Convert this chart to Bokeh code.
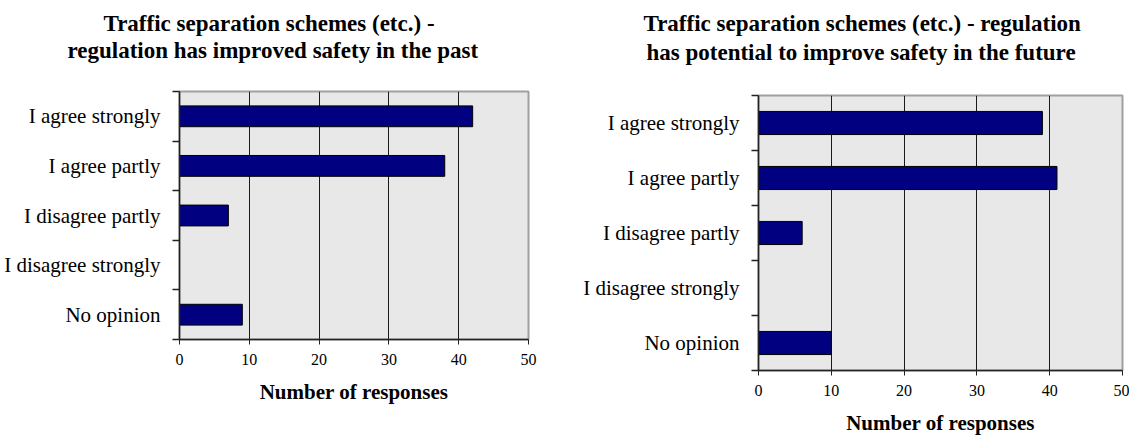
from bokeh.plotting import figure
from bokeh.layouts import row
from bokeh.models import Range1d, FixedTicker, Title, ColumnDataSource
from bokeh.embed import file_html
from bokeh.resources import INLINE

# ---------------- data ----------------
categories = ["I agree strongly", "I agree partly", "I disagree partly",
              "I disagree strongly", "No opinion"]
past_values = [42, 38, 7, 0, 9]
future_values = [39, 41, 6, 0, 10]
x_ticks = [0, 10, 20, 30, 40, 50]
grid_ticks = [10, 20, 30, 40]
title_past = ["Traffic separation schemes (etc.)  -",
              "regulation has improved safety in the past"]
title_future = ["Traffic separation schemes (etc.) - regulation",
                "has potential to improve safety in the future"]
x_label = "Number of responses"

SERIF = "Liberation Serif"
PAGE_MARGIN = 8


def build(values, title_lines, title_offsets, title_gap, title_standoff,
          fig_x0, width, height, fl, ft, fr, fb):
    n = len(categories)
    ymax = 2 * n
    centers = [2 * (n - i) - 1 for i in range(n)]
    p = figure(width=width, height=height, output_backend="svg",
               toolbar_location=None,
               x_range=Range1d(0, 50), y_range=Range1d(0, ymax),
               min_border_left=fl - fig_x0,
               min_border_right=fig_x0 + width - fr,
               min_border_top=ft - PAGE_MARGIN,
               min_border_bottom=PAGE_MARGIN + height - fb)
    p.frame_align = False
    p.background_fill_color = "#E8E8E8"
    p.border_fill_color = "white"
    p.outline_line_color = "#A0A0A0"
    p.outline_line_width = 2

    src = ColumnDataSource(dict(y=centers, right=values, cat=categories))
    p.hbar(y="y", left=0, right="right", height=0.84, source=src,
           fill_color="#000080", line_color="black", line_width=1)

    # grid
    p.ygrid.visible = False
    p.xgrid.ticker = FixedTicker(ticks=grid_ticks)
    p.xgrid.grid_line_color = "#1a1a1a"
    p.xgrid.grid_line_width = 1

    # x axis
    xa = p.xaxis[0]
    xa.ticker = FixedTicker(ticks=x_ticks)
    xa.axis_line_color = "#222222"
    xa.axis_line_width = 1.5
    xa.major_tick_line_color = "#222222"
    xa.major_tick_in = 0
    xa.major_tick_out = 5
    xa.minor_tick_line_color = None
    xa.minor_tick_out = 0
    xa.major_label_text_font = SERIF
    xa.major_label_text_font_size = "16px"
    xa.major_label_text_color = "black"
    xa.major_label_standoff = 9
    xa.axis_label = x_label
    xa.axis_label_text_font = SERIF
    xa.axis_label_text_font_style = "bold"
    xa.axis_label_text_font_size = "21px"
    xa.axis_label_text_color = "black"
    xa.axis_label_standoff = 12

    # y axis: labels at band centres, ticks at band boundaries
    ya = p.yaxis[0]
    ya.ticker = FixedTicker(ticks=centers, minor_ticks=list(range(0, ymax + 1, 2)))
    ya.major_label_overrides = {c: cat for c, cat in zip(centers, categories)}
    ya.axis_line_color = "#222222"
    ya.axis_line_width = 1.5
    ya.major_tick_line_color = None
    ya.major_tick_in = 0
    ya.major_tick_out = 0
    ya.minor_tick_line_color = "#222222"
    ya.minor_tick_line_width = 1.5
    ya.minor_tick_in = 0
    ya.minor_tick_out = 7
    ya.major_label_text_font = SERIF
    ya.major_label_text_font_size = "21px"
    ya.major_label_text_color = "black"
    ya.major_label_standoff = 12

    # spacer between frame and title, then the two title lines (nearest first)
    p.add_layout(Title(text=" ", text_font_size="1px", standoff=title_gap), "above")
    for line, off in reversed(list(zip(title_lines, title_offsets))):
        p.add_layout(Title(text=line, align="left", offset=off, standoff=title_standoff,
                           text_font=SERIF, text_font_style="bold",
                           text_font_size="23px", text_color="black"), "above")
    return p


p1 = build(past_values, title_past, [-76, -112], 26, 0,
           fig_x0=8, width=560, height=438, fl=187, ft=99, fr=536, fb=347)
p2 = build(future_values, title_future, [-115, -112], 27, 2,
           fig_x0=568, width=569, height=438, fl=766, ft=103, fr=1130, fb=378)

layout = row(p1, p2)
open("out.html", "w").write(file_html(layout, INLINE))
